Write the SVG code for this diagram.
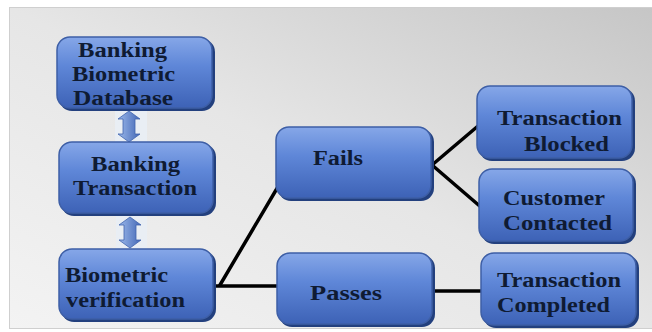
<svg xmlns="http://www.w3.org/2000/svg" width="652" height="332" viewBox="0 0 652 332">
<defs>
<linearGradient id="bg" x1="0" y1="1" x2="1" y2="0">
<stop offset="0" stop-color="#f3f3f3"/>
<stop offset="0.5" stop-color="#e6e6e6"/>
<stop offset="1" stop-color="#c6c6c6"/>
</linearGradient>
<linearGradient id="nodeFill" x1="0" y1="0" x2="0" y2="1">
<stop offset="0" stop-color="#86a7e8"/>
<stop offset="0.4" stop-color="#5f87d8"/>
<stop offset="1" stop-color="#3d62b6"/>
</linearGradient>
<linearGradient id="arrowFill" x1="0" y1="0" x2="1" y2="0">
<stop offset="0" stop-color="#9bb8ea"/>
<stop offset="1" stop-color="#4468b6"/>
</linearGradient>
</defs>
<style>
.node{fill:url(#nodeFill);stroke:#3e5fa6;stroke-width:1.5}
.shadow{fill:#23407e}
.lbl{font-family:"Liberation Serif","Times New Roman",serif;font-weight:bold;font-size:20px;fill:#0f1b33}
.conn{stroke:#000;stroke-width:3.5;fill:none;stroke-linecap:round}
.dbl{fill:url(#arrowFill);stroke:#3f63ad;stroke-width:0.8}
.dblbg{fill:#e9eef4}
</style>
<rect x="0" y="0" width="652" height="332" fill="#ffffff"/>
<rect x="9.5" y="7.5" width="643" height="321" fill="url(#bg)" stroke="#cfcfcf" stroke-width="1"/>

<g id="connectors">
<line class="conn" x1="211" y1="286" x2="279" y2="286"/>
<line class="conn" x1="220" y1="285" x2="279" y2="185"/>
<line class="conn" x1="432" y1="165" x2="478" y2="126"/>
<line class="conn" x1="432" y1="165" x2="482" y2="208"/>
<line class="conn" x1="428" y1="291" x2="483" y2="291"/>
<g id="arrow1">
<rect class="dblbg" x="115" y="110" width="32" height="33"/>
<path class="dbl" d="M129,111 L140,119 L135,119 L135,134 L140,134 L129,142 L118,134 L123,134 L123,119 L118,119 Z"/>
</g>
<g id="arrow2">
<rect class="dblbg" x="116" y="216" width="31" height="33"/>
<path class="dbl" d="M130,217 L141,225 L136,225 L136,240 L141,240 L130,248 L119,240 L124,240 L124,225 L119,225 Z"/>
</g>
</g>

<g id="node-database">
<rect class="shadow" x="59" y="39" width="156" height="72" rx="13"/>
<rect class="node" x="57" y="37" width="155" height="71" rx="13"/>
<text class="lbl" x="78" y="57" textLength="89" lengthAdjust="spacingAndGlyphs">Banking</text>
<text class="lbl" x="72" y="81" textLength="103" lengthAdjust="spacingAndGlyphs">Biometric</text>
<text class="lbl" x="73" y="105" textLength="100" lengthAdjust="spacingAndGlyphs">Database</text>
</g>

<g id="node-transaction">
<rect class="shadow" x="61" y="144" width="155" height="72" rx="13"/>
<rect class="node" x="59" y="142" width="154" height="71" rx="13"/>
<text class="lbl" x="91" y="171" textLength="89" lengthAdjust="spacingAndGlyphs">Banking</text>
<text class="lbl" x="73" y="195" textLength="124" lengthAdjust="spacingAndGlyphs">Transaction</text>
</g>

<g id="node-verification">
<rect class="shadow" x="61" y="251" width="155" height="71" rx="13"/>
<rect class="node" x="59" y="249" width="154" height="70" rx="13"/>
<text class="lbl" x="65" y="282" textLength="103" lengthAdjust="spacingAndGlyphs">Biometric</text>
<text class="lbl" x="66" y="307" textLength="119" lengthAdjust="spacingAndGlyphs">verification</text>
</g>

<g id="node-fails">
<rect class="shadow" x="278" y="129" width="156" height="72" rx="13"/>
<rect class="node" x="276" y="127" width="155" height="71" rx="13"/>
<text class="lbl" x="313" y="165" textLength="50" lengthAdjust="spacingAndGlyphs">Fails</text>
</g>

<g id="node-passes">
<rect class="shadow" x="279" y="255" width="156" height="72" rx="13"/>
<rect class="node" x="277" y="253" width="155" height="71" rx="13"/>
<text class="lbl" x="310" y="300" textLength="72" lengthAdjust="spacingAndGlyphs">Passes</text>
</g>

<g id="node-blocked">
<rect class="shadow" x="479" y="88" width="156" height="73" rx="13"/>
<rect class="node" x="477" y="86" width="155" height="72" rx="13"/>
<text class="lbl" x="497" y="125" textLength="125" lengthAdjust="spacingAndGlyphs">Transaction</text>
<text class="lbl" x="524" y="151" textLength="85" lengthAdjust="spacingAndGlyphs">Blocked</text>
</g>

<g id="node-contacted">
<rect class="shadow" x="481" y="171" width="155" height="73" rx="13"/>
<rect class="node" x="479" y="169" width="154" height="72" rx="13"/>
<text class="lbl" x="503" y="205" textLength="102" lengthAdjust="spacingAndGlyphs">Customer</text>
<text class="lbl" x="503" y="230" textLength="109" lengthAdjust="spacingAndGlyphs">Contacted</text>
</g>

<g id="node-completed">
<rect class="shadow" x="483" y="255" width="156" height="73" rx="13"/>
<rect class="node" x="481" y="253" width="155" height="72" rx="13"/>
<text class="lbl" x="497" y="287" textLength="124" lengthAdjust="spacingAndGlyphs">Transaction</text>
<text class="lbl" x="497" y="312" textLength="113" lengthAdjust="spacingAndGlyphs">Completed</text>
</g>
</svg>
